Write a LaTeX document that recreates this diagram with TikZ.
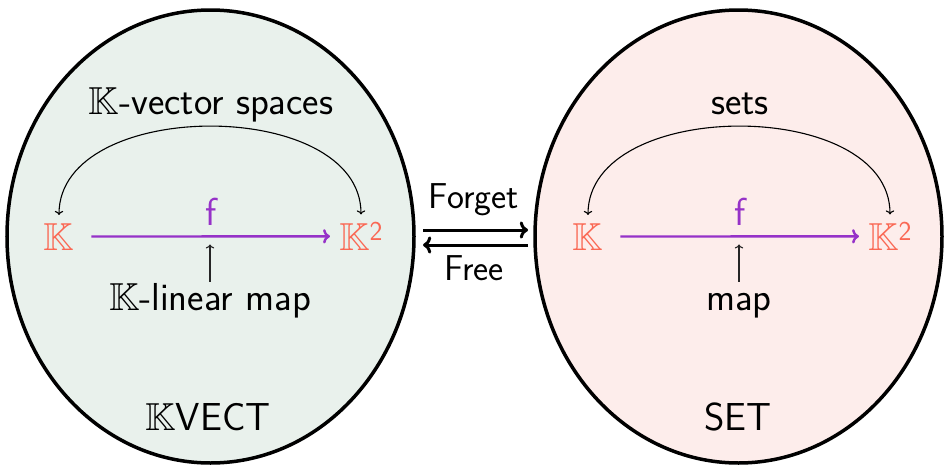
\documentclass[tikz,border=0pt]{standalone}
\usepackage{amsmath,amssymb}
\usepackage{fontspec}
\usetikzlibrary{shapes.geometric,arrows.meta}
\renewcommand{\familydefault}{\sfdefault}
\definecolor{lfill}{RGB}{233,241,236}
\definecolor{rfill}{RGB}{253,237,235}
\definecolor{kcol}{RGB}{250,104,84}
\definecolor{fcol}{RGB}{150,50,200}
\begin{document}
\begin{tikzpicture}[x=1pt,y=-1pt,
  world/.style={ellipse, draw, line width=3.5pt, minimum width=407pt, minimum height=453pt, inner sep=0pt},
  lbl/.style={font=\fontsize{39}{47}\selectfont, inner sep=0pt, anchor=base},
  small/.style={font=\fontsize{36}{43}\selectfont, inner sep=0pt, anchor=base},
  obj/.style={lbl, text=kcol, inner sep=8pt},
  mor/.style={draw=fcol, line width=2.4pt, ->, shorten <=9pt, shorten >=1pt},
  flab/.style={lbl, text=fcol},
  kind/.style={lbl, text height=28pt},
  arcarrow/.style={line width=1.1pt, <->, out=90, in=90},
  pointer/.style={line width=1.1pt, ->, draw=black!85, shorten >=8pt},
  adj/.style={line width=3pt, ->}
]
\useasboundingbox (0,0) rectangle (946,466);

% left world
\node[world, fill=lfill] (L) at (210.5,236.5) {};
\node[lbl] (Ltop) at (211,114) {$\mathbb{K}$-vector spaces};
\node[obj] (LK) at (59,250) {$\mathbb{K}$};
\node[obj] (LK2) at (361,250) {$\mathbb{K}^{\text{2}}$};
\draw[mor] (LK) -- coordinate[pos=0.5] (Lm) (LK2);
\node[flab] (Lf) at (211,225) {f};
\node[kind] (Llin) at (210,310) {$\mathbb{K}$-linear map};
\node[lbl] (Lname) at (208,430) {$\mathbb{K}$VECT};
\draw[arcarrow] (LK.north) to (LK2.north);
\draw[pointer] (Llin.north) -- (Llin.north |- Lm);

% right world
\node[world, fill=rfill] (R) at (738.5,236.5) {};
\node[lbl] (Rtop) at (740,114) {sets};
\node[obj] (RK) at (588,250) {$\mathbb{K}$};
\node[obj] (RK2) at (890,250) {$\mathbb{K}^{\text{2}}$};
\draw[mor] (RK) -- coordinate[pos=0.5] (Rm) (RK2);
\node[flab] (Rf) at (740,225) {f};
\node[kind] (Rlin) at (739,310) {map};
\node[lbl] (Rname) at (738,430) {SET};
\draw[arcarrow] (RK.north) to (RK2.north);
\draw[pointer] (Rlin.north) -- (Rlin.north |- Rm);

% adjunction
\coordinate (a1) at (423,230);
\coordinate (a2) at (528,230);
\coordinate (b1) at (528,245);
\coordinate (b2) at (423,245);
\draw[adj] (a1) -- (a2);
\draw[adj] (b1) -- (b2);
\node[small] (forget) at (474,208) {Forget};
\node[small] (free) at (474,280) {Free};
\end{tikzpicture}
\end{document}
